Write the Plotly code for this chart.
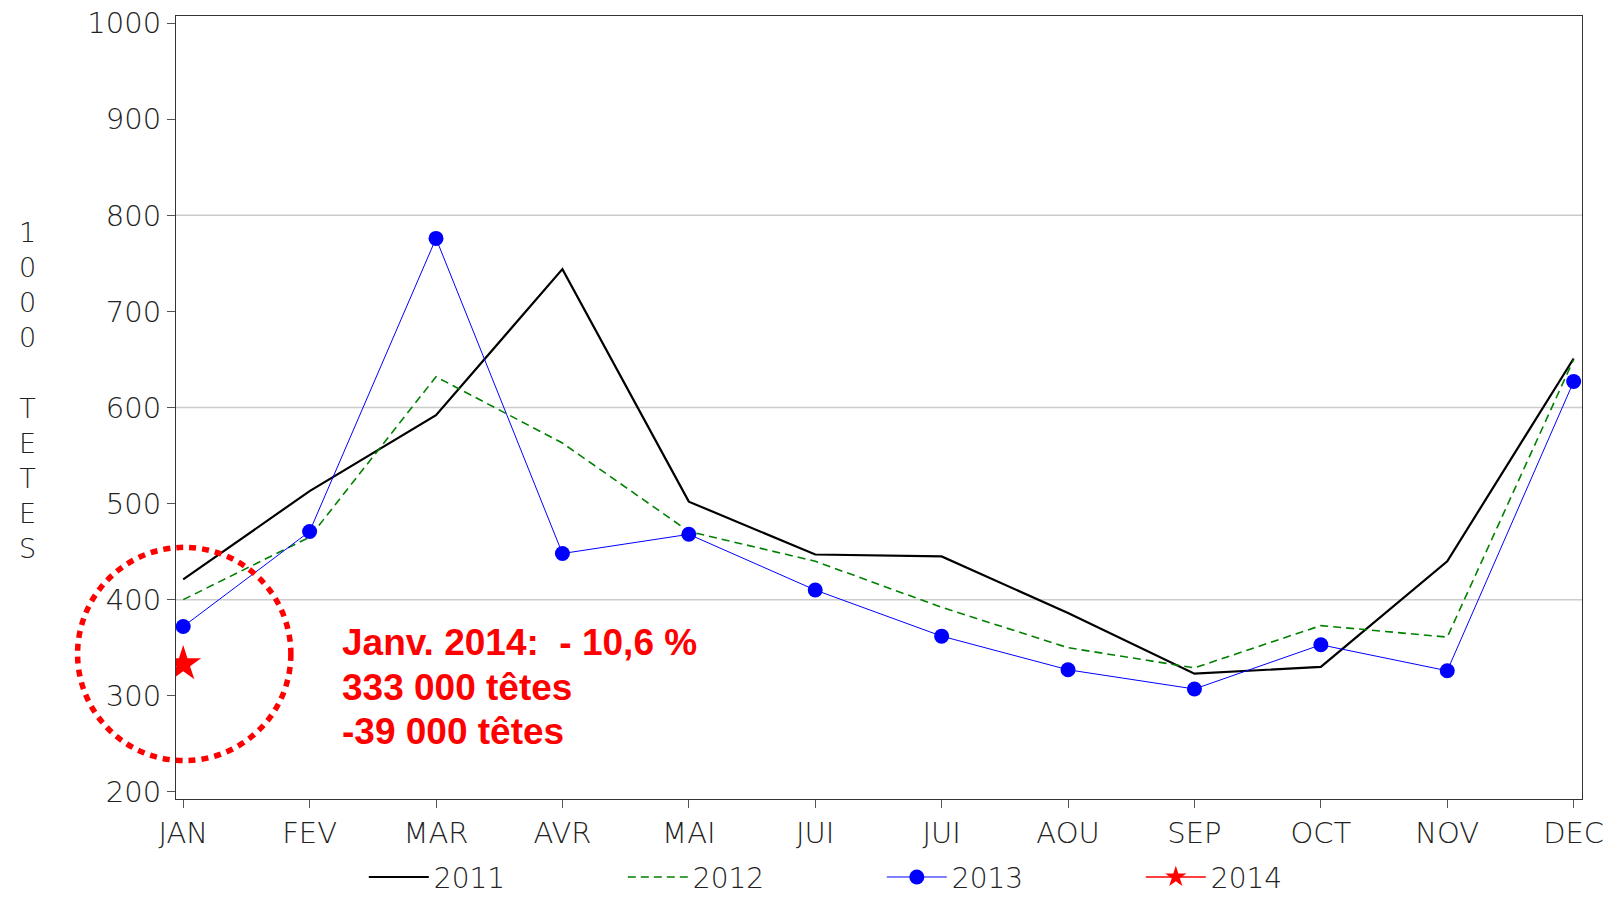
import plotly.graph_objects as go

months = ["JAN", "FEV", "MAR", "AVR", "MAI", "JUI", "JUI ", "AOU", "SEP", "OCT", "NOV", "DEC"]
tick_labels = ["JAN", "FEV", "MAR", "AVR", "MAI", "JUI", "JUI", "AOU", "SEP", "OCT", "NOV", "DEC"]
y2011 = [421, 513, 592, 744, 502, 447, 445, 386, 323, 330, 440, 651]
y2012 = [400, 465, 632, 563, 471, 440, 392, 350, 329, 373, 361, 650]
y2013 = [372, 471, 776, 448, 468, 410, 362, 327, 307, 353, 326, 627]
y2014 = [333]
grid_values = [400, 600, 800]
annot_lines = ["Janv. 2014:  - 10,6 %", "333 000 têtes", "-39 000 têtes"]
annot_y = [355, 309, 263]
ytitle = "1 0 0 0 \u00a0 T E T E S"

idx = list(range(len(months)))
FONT = "DejaVu Sans ExtraLight, DejaVu Sans"
tick_font = dict(family=FONT, size=29, color="#222222", weight=200)
legend_font = dict(family=FONT, size=28, color="#222222", weight=200)

fig = go.Figure()
fig.add_trace(go.Scatter(x=idx, y=y2011, mode="lines", name="2011",
                         line=dict(color="black", width=2.2)))
fig.add_trace(go.Scatter(x=idx, y=y2012, mode="lines", name="2012",
                         line=dict(color="#008000", width=1.6, dash="8px,5px")))
fig.add_trace(go.Scatter(x=idx, y=y2013, mode="lines+markers", name="2013",
                         line=dict(color="#0000FF", width=1),
                         marker=dict(color="#0000FF", size=15)))
fig.add_trace(go.Scatter(x=idx[:len(y2014)], y=y2014, mode="lines+markers", name="2014",
                         line=dict(color="#FF0000", width=1.5),
                         marker=dict(color="#FF0000", size=27, symbol="star")))

shapes = []
for g in grid_values:
    shapes.append(dict(type="line", xref="paper", x0=0, x1=1, yref="y", y0=g, y1=g,
                       line=dict(color="#cccccc", width=1.5), layer="below"))
shapes.append(dict(type="circle", xref="paper", yref="paper",
                   x0=-0.07, x1=0.0817, y0=0.049, y1=0.3214,
                   line=dict(color="#FF0000", width=5.5, dash="7px,6px"), layer="above"))

annotations = []
for t, yv in zip(annot_lines, annot_y):
    annotations.append(dict(x=1.24, y=yv, xref="x", yref="y", text=t, showarrow=False,
                            xanchor="left", yanchor="middle",
                            font=dict(family="Liberation Sans, Arial", size=37, color="#FF0000", weight="bold")))
annotations.append(dict(x=-0.1058, y=0.5213, xref="paper", yref="paper",
                        text="<br>".join(ytitle.split(" ")), showarrow=False,
                        xanchor="center", yanchor="middle",
                        font=dict(family=FONT, size=27, color="#222222", weight=200)))

fig.update_layout(
    width=1608, height=897,
    margin=dict(l=176, r=26, t=16, b=98, autoexpand=False),
    plot_bgcolor="white", paper_bgcolor="white",
    showlegend=True,
    legend=dict(orientation="h", x=0.502, xanchor="center", y=-0.1, yanchor="middle",
                font=legend_font, entrywidth=184, entrywidthmode="pixels", itemwidth=60),
    shapes=shapes, annotations=annotations,
)
fig.update_xaxes(range=[-0.057, 11.066], tickvals=idx, ticktext=tick_labels,
                 showline=True, linecolor="#333333", linewidth=1.2, mirror=True,
                 ticks="outside", ticklen=8, tickcolor="#555555", showgrid=False,
                 zeroline=False, tickfont=tick_font)
fig.update_yaxes(range=[192.5, 1007.5], tickvals=list(range(200, 1001, 100)),
                 showline=True, linecolor="#333333", linewidth=1.2, mirror=True,
                 ticks="outside", ticklen=8, tickcolor="#555555", showgrid=False,
                 zeroline=False, tickfont=tick_font)

fig.write_html("out.html", config={"displayModeBar": False},
               post_script="document.body.style.margin='0';document.body.style.overflow='hidden';")
